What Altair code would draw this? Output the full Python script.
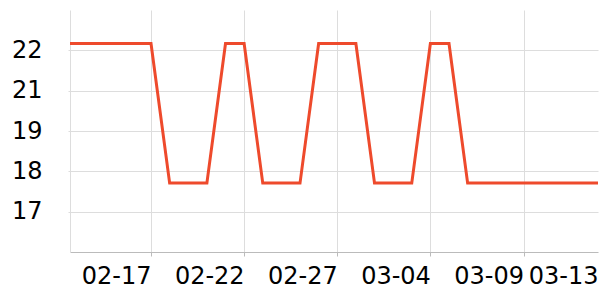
import altair as alt
import pandas as pd

dates = pd.date_range("2023-02-12", "2023-03-13", freq="D").strftime("%Y-%m-%d").tolist()
hi, lo = 22.0, 17.85
values = [hi]*6 + [lo]*3 + [hi]*2 + [lo]*3 + [hi]*3 + [lo]*3 + [hi]*2 + [lo]*8
x_ticks = ["2023-02-17", "2023-02-22", "2023-02-27", "2023-03-04", "2023-03-09", "2023-03-13"]
y_ticks = [17.0, 18.2, 19.4, 20.6, 21.8]

df = pd.DataFrame({"date": dates, "value": values})

x_tick_vals = [alt.DateTime(year=int(d[:4]), month=int(d[5:7]), date=int(d[8:]), utc=True) for d in x_ticks]

chart = alt.Chart(df).mark_line(color="#ee4a2c", strokeWidth=3, clip=True).encode(
    x=alt.X("date:T",
            scale=alt.Scale(type="utc",
                            domain=[alt.DateTime(year=2023, month=2, date=12, hours=15, minutes=36, utc=True),
                                    alt.DateTime(year=2023, month=3, date=13, utc=True)]),
            axis=alt.Axis(values=x_tick_vals, title=None,
                          labelExpr="utcFormat(datum.value, '%m-%d')",
                          labelFontSize=24, labelFont="DejaVu Sans", labelColor="#000",
                          labelPadding=8, labelAlign="right", labelOverlap=False,
                          labelBound=False,
                          tickSize=4, tickColor="#bbbbbb", domainColor="#bbbbbb",
                          gridColor="#dddddd",
                          gridOpacity={"condition": {"test": "datum.value >= utc(2023, 2, 13)", "value": 0}, "value": 1},
                          tickOpacity={"condition": {"test": "datum.value >= utc(2023, 2, 13)", "value": 0}, "value": 1})),
    y=alt.Y("value:Q",
            scale=alt.Scale(domain=[15.8, 23.0], nice=False, zero=False),
            axis=alt.Axis(values=y_ticks, title=None,
                          labelExpr="format(datum.value, '.0f')",
                          labelFontSize=24, labelFont="DejaVu Sans", labelColor="#000",
                          labelPadding=26, tickSize=2, tickColor="#dddddd",
                          domainColor="#dddddd", gridColor="#dddddd")),
).properties(
    width=528, height=242,
    autosize=alt.AutoSizeParams(type="none"),
    padding={"left": 70, "top": 10, "right": 2, "bottom": 48},
).configure_view(stroke=None)

chart.save("out.html", embed_options={"renderer": "svg", "actions": False})
